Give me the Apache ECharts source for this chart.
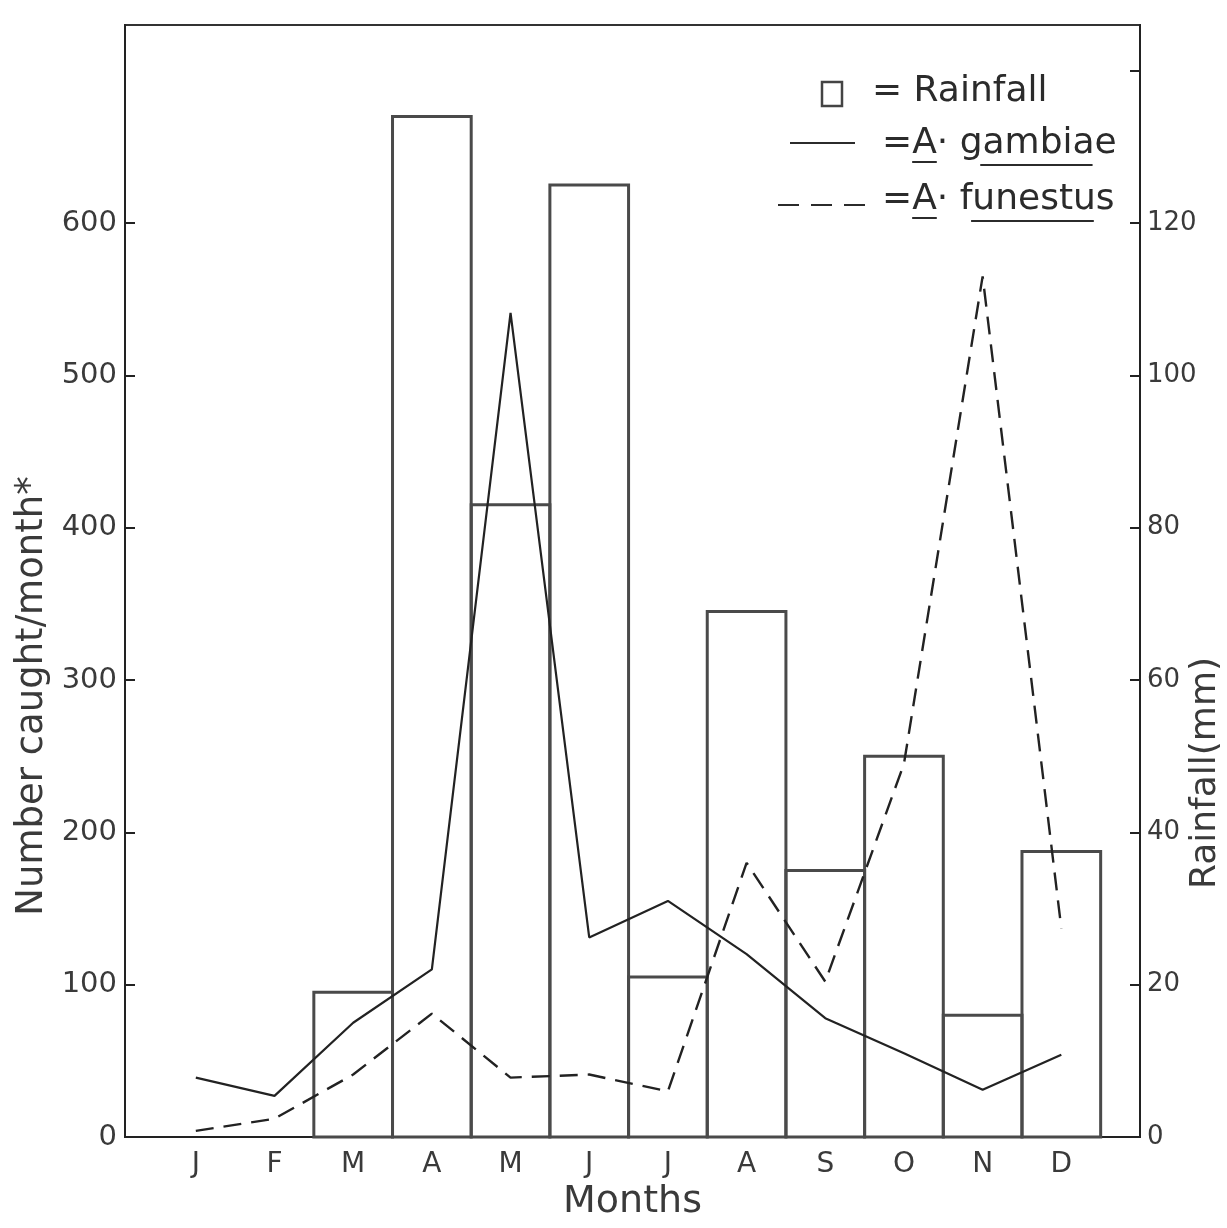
<!DOCTYPE html>
<html><head><meta charset="utf-8">
<script src="https://cdn.jsdelivr.net/npm/echarts@6/dist/echarts.min.js"></script>
<style>html,body{margin:0;padding:0;background:#fff;} #c{width:1227px;height:1228px;}</style>
</head><body><div id="c"></div>
<script>
// ---- data ----
const months = ['J','F','M','A','M','J','J','A','S','O','N','D'];
const rainfall = [0, 0, 19, 134, 83, 125, 21, 69, 35, 50, 16, 37.5];      // mm (right axis)
const gambiae  = [39, 27, 75, 110, 541, 131, 155, 120, 78, 55, 31, 54];   // number caught
const funestus = [4, 12, 41, 81, 39, 41, 30, 180, 102, 245, 565, 137];   // number caught
const leftTickValues  = [0, 100, 200, 300, 400, 500, 600];
const rightLabelValues = [0, 20, 40, 60, 80, 100, 120];
const rightTickValues  = [0, 20, 40, 60, 80, 100, 120, 140];
const monthPositions = months.map((m, i) => i + 1);

const FONT = '"DejaVu Sans", sans-serif';
const INK = '#2b2b2b';
const chart = echarts.init(document.getElementById('c'), null, {renderer: 'canvas'});

// text measuring for the hand-lettered legend pieces
const mctx = document.createElement('canvas').getContext('2d');
mctx.font = '36px "DejaVu Sans"';
const tw = s => mctx.measureText(s).width;

function legendRow(x0, yMid, species) {
  const els = [];
  els.push({type: 'text', left: x0, top: yMid - 21, z: 100,
    style: {text: '=A· ' + species, font: '36px ' + FONT, fill: INK}});
  const base = yMid + 13;
  const aStart = x0 + tw('='), aEnd = x0 + tw('=A');
  els.push({type: 'line', z: 100, shape: {x1: aStart, y1: base + 2, x2: aEnd, y2: base + 2},
    style: {stroke: INK, lineWidth: 2}});
  const sStart = x0 + tw('=A· ');
  const u0 = sStart + tw(species.charAt(0)) * 0.9;
  const u1 = sStart + tw(species.slice(0, species.length - 1)) - 2;
  els.push({type: 'line', z: 100, shape: {x1: u0, y1: base + 5, x2: u1, y2: base + 5},
    style: {stroke: INK, lineWidth: 2}});
  return els;
}

const graphic = [
  {type: 'rect', z: 100, shape: {x: 822, y: 82, width: 20, height: 24},
    style: {fill: 'none', stroke: '#444', lineWidth: 2.5}},
  {type: 'text', left: 872, top: 95 - 21, z: 100,
    style: {text: '= Rainfall', font: '36px ' + FONT, fill: INK}},
  {type: 'line', z: 100, shape: {x1: 790, y1: 143, x2: 855, y2: 143},
    style: {stroke: INK, lineWidth: 2.2}},
  {type: 'line', z: 100, shape: {x1: 778, y1: 205, x2: 868, y2: 205},
    style: {stroke: INK, lineWidth: 2.2, lineDash: [21, 12]}},
].concat(legendRow(882, 147, 'gambiae'), legendRow(882, 203, 'funestus'));

const option = {
  animation: false,
  backgroundColor: '#fff',
  textStyle: {fontFamily: FONT},
  grid: {left: 125, right: 87, top: 25, bottom: 91, show: true, outerBoundsMode: 'none',
    borderColor: '#333', borderWidth: 2, backgroundColor: 'transparent', containLabel: false},
  xAxis: {
    type: 'value', min: 0.1, max: 13,
    name: 'Months', nameLocation: 'middle', nameGap: 46, nameMoveOverlap: false,
    nameTextStyle: {fontSize: 38, color: '#3a3a3a', fontFamily: FONT},
    axisLine: {show: true, lineStyle: {color: '#222', width: 2}},
    axisTick: {show: false},
    splitLine: {show: false},
    axisLabel: {customValues: monthPositions, fontSize: 28, color: '#3a3a3a', margin: 14,
      formatter: v => months[Math.round(v) - 1] || ''}
  },
  yAxis: [
    {
      type: 'value', min: 0, max: 730, position: 'left',
      name: 'Number caught/month*', nameLocation: 'middle', nameRotate: 90, nameGap: 74,
      nameMoveOverlap: false,
      nameTextStyle: {fontSize: 37, color: '#3a3a3a', fontFamily: FONT, padding: [0, 230, 0, 0]},
      axisLine: {show: true, lineStyle: {color: '#222', width: 2}},
      axisTick: {show: true, inside: true, length: 10, customValues: leftTickValues,
        lineStyle: {color: '#222', width: 2}},
      axisLabel: {customValues: leftTickValues, fontSize: 29, color: '#3a3a3a', margin: 8},
      splitLine: {show: false}
    },
    {
      type: 'value', min: 0, max: 146, position: 'right',
      name: 'Rainfall(mm)', nameLocation: 'middle', nameRotate: 90, nameGap: 48,
      nameMoveOverlap: false,
      nameTextStyle: {fontSize: 36, color: '#3a3a3a', fontFamily: FONT, padding: [0, 384, 0, 0]},
      axisLine: {show: true, lineStyle: {color: '#222', width: 2}},
      axisTick: {show: true, inside: true, length: 10, customValues: rightTickValues,
        lineStyle: {color: '#222', width: 2}},
      axisLabel: {customValues: rightLabelValues, fontSize: 26, color: '#3a3a3a', margin: 7},
      splitLine: {show: false}
    }
  ],
  series: [
    {
      type: 'custom', name: 'Rainfall', yAxisIndex: 1,
      data: rainfall.map((v, i) => [i + 1, v]),
      encode: {x: 0, y: 1},
      renderItem: function (params, api) {
        const x = api.value(0), v = api.value(1);
        if (!v) return null;
        const tl = api.coord([x - 0.5, v]);
        const br = api.coord([x + 0.5, 0]);
        return {type: 'rect',
          shape: {x: tl[0], y: tl[1], width: br[0] - tl[0], height: br[1] - tl[1]},
          style: {fill: 'none', stroke: '#4a4a4a', lineWidth: 3}};
      }
    },
    {
      type: 'line', name: 'A. gambiae', yAxisIndex: 0,
      data: gambiae.map((v, i) => [i + 1, v]),
      symbol: 'none', lineStyle: {color: '#222', width: 2.2}, z: 5
    },
    {
      type: 'line', name: 'A. funestus', yAxisIndex: 0,
      data: funestus.map((v, i) => [i + 1, v]),
      symbol: 'none', lineStyle: {color: '#222', width: 2.4, type: [18, 10]}, z: 5
    }
  ],
  graphic: graphic
};
chart.setOption(option);
</script></body></html>
